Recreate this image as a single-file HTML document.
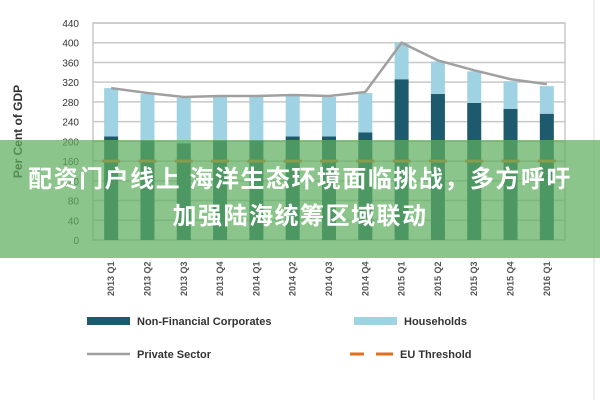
<!DOCTYPE html>
<html><head><meta charset="utf-8"><style>
body{margin:0;background:#fff;width:600px;height:400px;overflow:hidden;position:relative;font-family:"Liberation Sans",sans-serif}
#ov{position:absolute;left:0;top:140px;width:600px;height:118px;background:rgba(95,175,95,0.72)}
.ot{position:absolute;left:0;width:600px;text-align:center;color:#fff;font:bold 24px "Liberation Sans","Noto Sans CJK SC",sans-serif;letter-spacing:1.5px;line-height:28px;white-space:nowrap}
</style></head><body>
<svg id="c" width="600" height="400"></svg>
<div id="ov">
<div class="ot" style="top:26px">配资门户线上 海洋生态环境面临挑战，多方呼吁</div>
<div class="ot" style="top:63px">加强陆海统筹区域联动</div>
</div>
<script>
const categories=["2013 Q1","2013 Q2","2013 Q3","2013 Q4","2014 Q1","2014 Q2","2014 Q3","2014 Q4","2015 Q1","2015 Q2","2015 Q3","2015 Q4","2016 Q1"];
const nfc=[210,202,196,202,202,210,210,218,326,296,278,266,256];
const households=[98,94,92,88,88,82,80,80,74,66,64,56,56];
const privateSector=[308,298,290,292,292,294,292,300,400,364,344,326,316];
const euThreshold=[160,160,160,160,160,160,160,160,160,160,160,160,160];
const yTicks=[0,40,80,120,160,200,240,280,320,360,400,440];
const NS="http://www.w3.org/2000/svg",svg=document.getElementById('c');
function el(t,a,p){const e=document.createElementNS(NS,t);for(const k in a)e.setAttribute(k,a[k]);(p||svg).appendChild(e);return e;}
const L=93,R=565,T=23,B=240;
const y=v=>B-(v/440)*(B-T);
const step=(R-L)/categories.length;
const x=i=>L+step*(i+0.5);
for(const t of yTicks){
 const g=el('line',{x1:L,x2:R,y1:y(t),y2:y(t),stroke:'#c8c8c8','stroke-width':1.5});
 
 const tx=el('text',{x:L-14,y:y(t)+4,'text-anchor':'end','font-size':10,fill:'#333'});tx.textContent=t;
 
}
const fr=el('rect',{x:L,y:T,width:R-L,height:B-T,fill:'none',stroke:'#c8c8c8','stroke-width':1.5});

const yt=el('text',{transform:'translate(22,'+(B+T)/2+') rotate(-90)','text-anchor':'middle','font-size':12,'font-weight':'bold',fill:'#333'});yt.textContent='Per Cent of GDP';

categories.forEach((c,i)=>{
 const bw=14;
 const b1=el('rect',{x:x(i)-bw/2,y:y(nfc[i]),width:bw,height:B-y(nfc[i]),fill:'#1d5a6e'});
 
 const tot=nfc[i]+households[i];
 const b2=el('rect',{x:x(i)-bw/2,y:y(tot),width:bw,height:y(nfc[i])-y(tot),fill:'#9fd3e3'});
 
 const d=el('line',{x1:x(i)-9,x2:x(i)+9,y1:y(euThreshold[i]),y2:y(euThreshold[i]),stroke:'#e07020','stroke-width':3});
 
 const t=el('text',{transform:'translate('+(x(i)+3)+',296) rotate(-90)','font-size':9,'font-weight':'bold',fill:'#555'});t.textContent=c;
 
});
const pl=el('polyline',{points:privateSector.map((v,i)=>x(i)+','+y(v)).join(' '),fill:'none',stroke:'#a0a0a0','stroke-width':2.5});

function leg(x0,y0,kind,label,name){
 const g=el('g',{});
 if(kind==='dark')el('rect',{x:x0,y:y0-4,width:43,height:8,fill:'#1d5a6e'},g);
 if(kind==='light')el('rect',{x:x0,y:y0-4,width:43,height:8,fill:'#9fd3e3'},g);
 if(kind==='line')el('line',{x1:x0,x2:x0+43,y1:y0,y2:y0,stroke:'#a0a0a0','stroke-width':2.5},g);
 if(kind==='dash'){el('line',{x1:x0,x2:x0+14,y1:y0,y2:y0,stroke:'#e07020','stroke-width':3},g);el('line',{x1:x0+26,x2:x0+43,y1:y0,y2:y0,stroke:'#e07020','stroke-width':3},g);}
 const t=el('text',{x:x0+50,y:y0+4,'font-size':11,'font-weight':'bold',fill:'#333'},g);t.textContent=label;
}
leg(87,321,'dark','Non-Financial Corporates','legend-nfc');
leg(354,321,'light','Households','legend-households');
leg(87,354,'line','Private Sector','legend-private-sector');
leg(350,354,'dash','EU Threshold','legend-eu-threshold');
const vl=el('line',{x1:594,x2:594,y1:0,y2:400,stroke:'#ddd','stroke-width':1});

</script>
</body></html>
